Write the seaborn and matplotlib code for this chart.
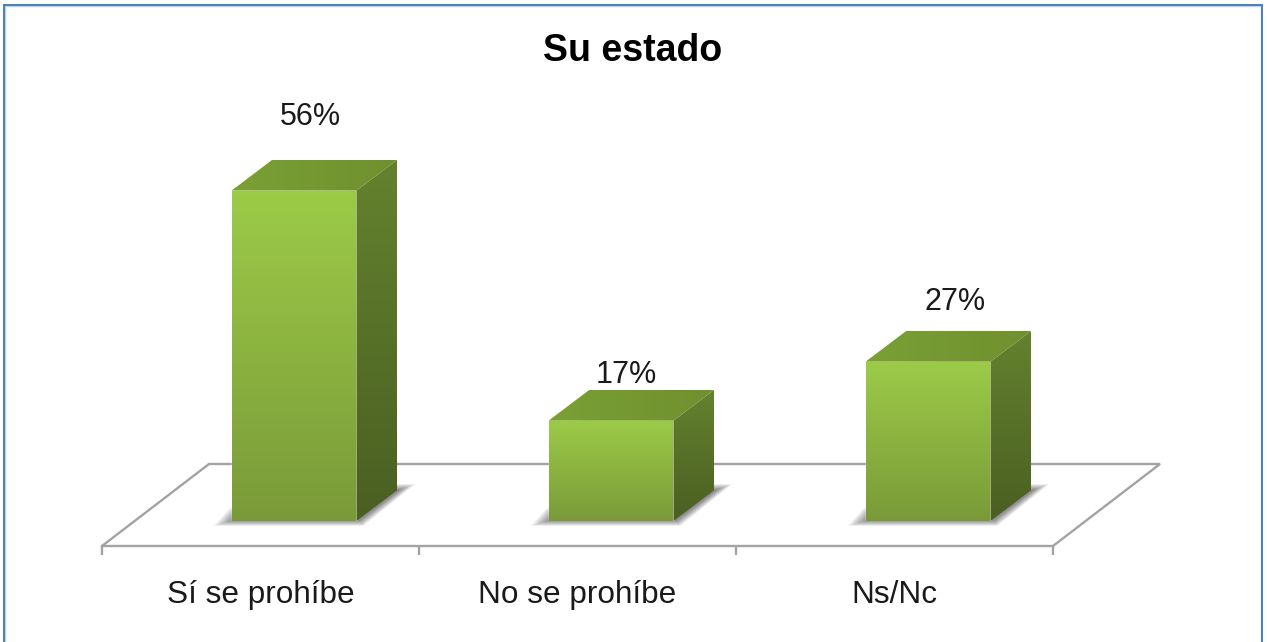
import numpy as np
import matplotlib
matplotlib.use('Agg')
import matplotlib.pyplot as plt
from matplotlib.colors import LinearSegmentedColormap
from matplotlib.patches import Polygon, Rectangle
import seaborn as sns

categories = ['Sí se prohíbe', 'No se prohíbe', 'Ns/Nc']
values = [56, 17, 27]
value_labels = ['56%', '17%', '27%']
title = 'Su estado'

W, H = 1267, 642
PX_PER_UNIT = 5.9
GREY = '#a3a3a3'

sns.set_theme(style='white')
plt.rcParams['font.family'] = ['Liberation Sans', 'DejaVu Sans']

fig = plt.figure(figsize=(W / 100, H / 100), dpi=100, facecolor='white')


def px_axes(left, right, top, bottom):
    return fig.add_axes([left / W, 1 - bottom / H, (right - left) / W, (bottom - top) / H])


# window border of the original screenshot
fig.add_artist(Rectangle((5 / W, -0.1), 1256 / W, 1.1 - 6 / H, transform=fig.transFigure,
                         fill=False, ec='#bcd3ec', lw=1))
fig.add_artist(Rectangle((3.5 / W, -0.1), 1258.5 / W, 1.1 - 4.5 / H, transform=fig.transFigure,
                         fill=False, ec='#4a7ebb', lw=1.4))

# floor with the category axis
floor = px_axes(102, 1053, 464, 546)
floor.set_xlim(0, 3)
floor.set_ylim(0, 1)
floor.patch.set_visible(False)
skew = 107 / 317
floor.plot([0, skew, 3 + skew, 3], [0, 1, 1, 0], color=GREY, lw=1.7, clip_on=False,
           solid_joinstyle='miter')
sns.despine(ax=floor, left=True, top=True, right=True)
floor.spines['bottom'].set_color(GREY)
floor.spines['bottom'].set_linewidth(1.7)
floor.set_yticks([])
floor.set_xticks([0, 1, 2, 3])
floor.set_xticklabels([])
floor.set_xticks([0.5, 1.5, 2.5], minor=True)
floor.set_xticklabels(categories, minor=True, fontsize=22.7, color='#1a1a1a')
floor.tick_params(axis='x', which='major', length=6.5, width=1.7, color=GREY, bottom=True)
floor.tick_params(axis='x', which='minor', length=0, pad=24.6, bottom=True)

# bars sit in the middle of the floor depth
ax = px_axes(135.5, 1086.5, 521 - 70 * PX_PER_UNIT, 521)
ax.patch.set_visible(False)
sns.barplot(x=categories, y=values, width=0.394, color='#8cb040', saturation=1, ax=ax)
ax.set_xlim(-0.5, 2.5)
ax.set_ylim(0, 70)
ax.axis('off')

ux = 3 / 951
uy = 1 / PX_PER_UNIT
dx, dy = 41 * ux, 31 * uy


def gradient(verts, start, end, horizontal=False, zorder=3):
    verts = np.array(verts)
    cmap = LinearSegmentedColormap.from_list('g', [start, end])
    grad = np.linspace(0, 1, 256).reshape(-1, 1)
    if horizontal:
        grad = grad.T
    ext = [verts[:, 0].min(), verts[:, 0].max(), verts[:, 1].min(), verts[:, 1].max()]
    im = ax.imshow(grad, extent=ext, origin='upper', cmap=cmap, aspect='auto', zorder=zorder)
    poly = Polygon(verts, closed=True, transform=ax.transData, fc='none', ec='none')
    ax.add_patch(poly)
    im.set_clip_path(poly)


label_shift = [(16, 74), (15, 46), (27, 60)]

for bar, text, shift in zip(list(ax.patches), value_labels, label_shift):
    l, r = bar.get_x(), bar.get_x() + bar.get_width()
    h = bar.get_height()
    bar.set_zorder(3)

    # soft shadow on the floor
    for s in np.arange(20, 0, -1.5):
        pts = [(l + (2 - s) * ux, (1 - s * 0.3) * uy),
               (r + (3 + s * 0.2) * ux, (1 - s * 0.3) * uy),
               (r + dx + (2 + s * 0.8) * ux, (31 + s * 0.3) * uy),
               (l + dx, (31 + s * 0.3) * uy),
               (l + (2 - s * 0.2) * ux, (1 + s * 0.6) * uy)]
        ax.add_patch(Polygon(pts, closed=True, fc='black', ec='none', alpha=0.04, zorder=2,
                             clip_on=False))

    gradient([(l, 0), (r, 0), (r, h), (l, h)], '#9ccb48', '#7a9a38')
    gradient([(r, 0), (r + dx, dy), (r + dx, h + dy), (r, h)], '#64822e', '#4a5f22')
    gradient([(l, h), (r, h), (r + dx, h + dy), (l + dx, h + dy)], '#7aa035', '#70902f', horizontal=True)

    ax.annotate(text, (l + (r - l) / 2, h), xytext=(shift[0] * 0.72, shift[1] * 0.72),
                textcoords='offset points', ha='center', va='center', fontsize=22,
                color='#1a1a1a', annotation_clip=False)

ax.set_xlim(-0.5, 2.5)
ax.set_ylim(0, 70)

fig.text(632.5 / W, 1 - 51 / H, title, ha='center', va='center', fontsize=27,
         fontweight='bold', color='black')

fig.savefig('out.png', dpi=100)
